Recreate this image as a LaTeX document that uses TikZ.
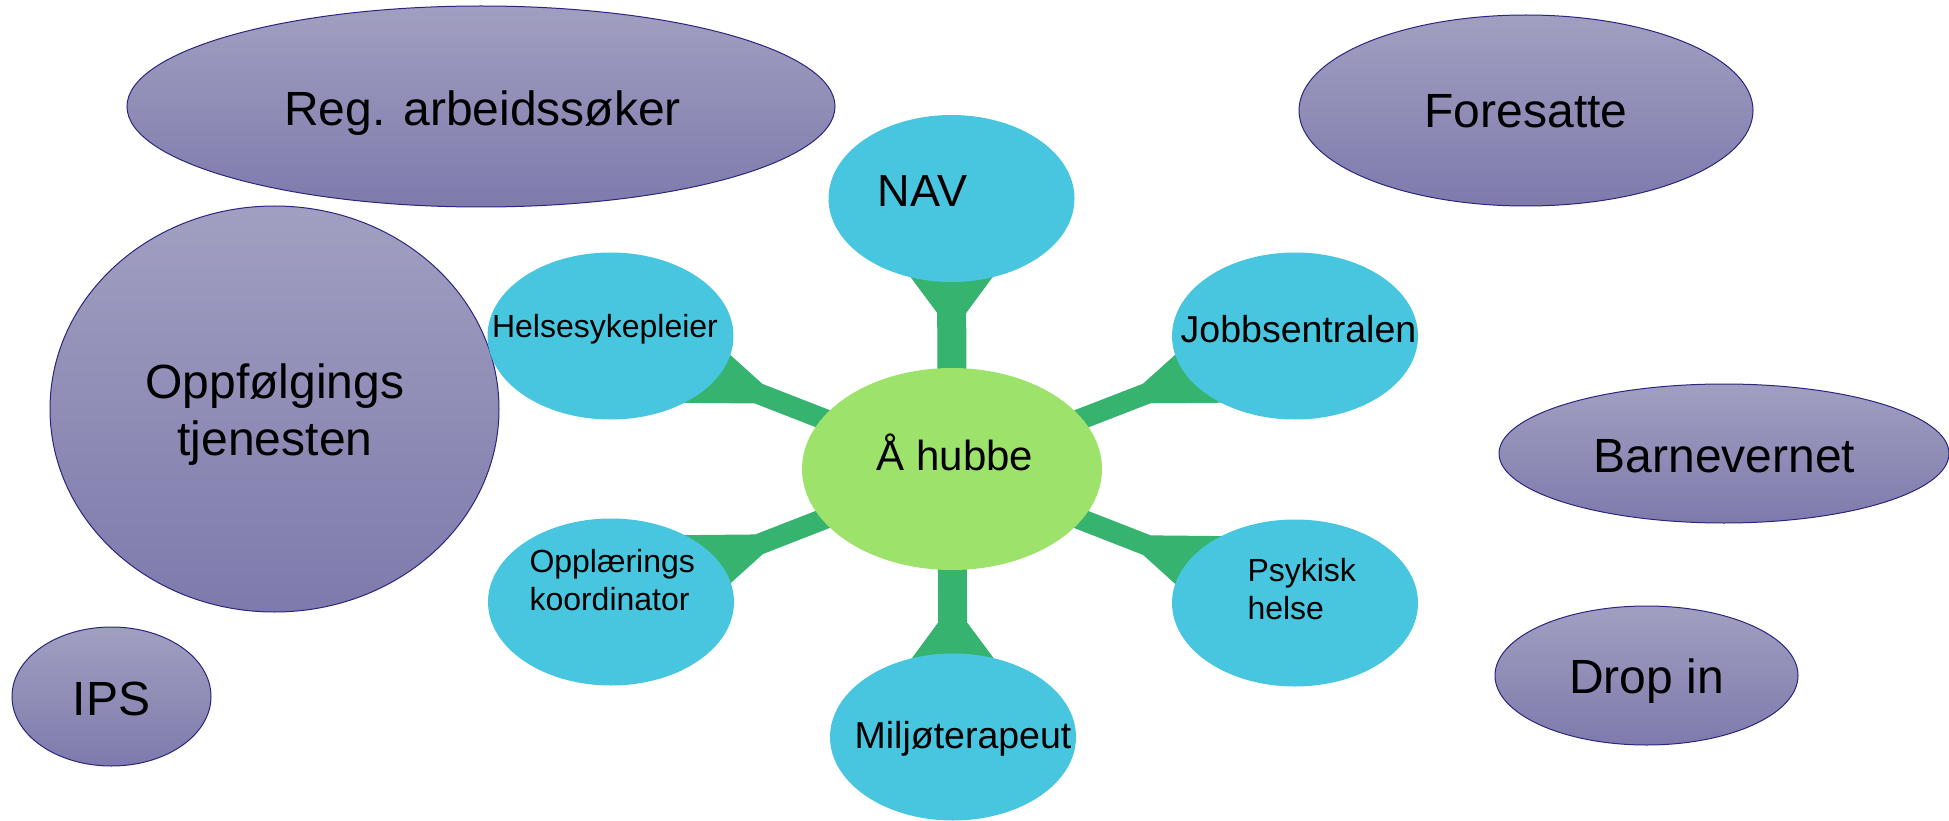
\documentclass[tikz,border=0pt]{standalone}
\usepackage{fontspec}
\setmainfont{Liberation Sans}
\usetikzlibrary{shapes.geometric,calc,backgrounds}
\definecolor{ptop}{RGB}{161,159,193}
\definecolor{pbot}{RGB}{126,122,172}
\definecolor{pline}{RGB}{42,38,128}
\definecolor{leafblue}{RGB}{73,198,223}
\definecolor{hubgreen}{RGB}{157,227,107}
\definecolor{spokegreen}{RGB}{53,179,111}
\newcommand\fsz[1]{\fontsize{#1}{#1}\selectfont}
\newcommand\linesc[3]{\vtop{\baselineskip=#1\relax\halign{\hfil##\hfil\cr#2\cr#3\cr}}}
\newcommand\linesl[3]{\vtop{\baselineskip=#1\relax\halign{##\hfil\cr#2\cr#3\cr}}}
% leaf, bar half-width, flare start, flare end, flare half-width
\newcommand\drawspoke[5]{%
  \fill[spokegreen]
  ($(hub.center)!#2!-90:(#1.center)$)
  -- ($(#1.center)!#3!(hub.center)!#2!90:(hub.center)$)
  -- ($(#1.center)!#4!(hub.center)!#5!90:(hub.center)$)
  -- ($(#1.center)!#4!(hub.center)!#5!-90:(hub.center)$)
  -- ($(#1.center)!#3!(hub.center)!#2!-90:(hub.center)$)
  -- ($(hub.center)!#2!90:(#1.center)$) -- cycle;}
\tikzset{
  outer/.style={ellipse, draw=pline, line width=1pt, top color=ptop, bottom color=pbot, inner sep=0pt, outer sep=0pt},
  leaf/.style={ellipse, fill=leafblue, minimum width=246pt, minimum height=167pt, inner sep=0pt, outer sep=0pt},
  hubst/.style={ellipse, fill=hubgreen, minimum width=300pt, minimum height=202pt, inner sep=0pt, outer sep=0pt},
  lbl/.style={anchor=base, inner sep=0pt, outer sep=0pt, text=black},
}
\begin{document}
\begin{tikzpicture}[x=1pt,y=-1pt]
\useasboundingbox (0,0) rectangle (1949,821);

% outer (purple) ellipses
\node[outer, minimum width=708pt, minimum height=201pt] (reg) at (481,106.5) {};
\node[lbl, font=\fsz{48}] (regt) at (482.5,126) {Reg. arbeidssøker};
\node[outer, minimum width=454pt, minimum height=191pt] (fore) at (1526,110.5) {};
\node[lbl, font=\fsz{48}] (foret) at (1526,128) {Foresatte};
\node[outer, minimum width=449pt, minimum height=406pt] (opp) at (274.5,409) {};
\node[lbl, font=\fsz{48}] (oppt) at (275,398) {\linesc{57pt}{Oppfølgings}{tjenesten}};
\node[outer, minimum width=450pt, minimum height=139pt] (barn) at (1724,453.5) {};
\node[lbl, font=\fsz{48}] (barnt) at (1724.5,472) {Barnevernet};
\node[outer, minimum width=199pt, minimum height=139pt] (ips) at (111.5,696.5) {};
\node[lbl, font=\fsz{48}] (ipst) at (111.5,715) {IPS};
\node[outer, minimum width=303pt, minimum height=139pt] (drop) at (1646.5,675.5) {};
\node[lbl, font=\fsz{48}] (dropt) at (1646.5,693) {Drop in};

% hub and leaves
\node[hubst] (hub) at (952,469) {};
\node[lbl, font=\fsz{42}] (hubt) at (955,470) {Å hubbe};
\node[leaf] (nav) at (951.5,198.5) {};
\node[lbl, font=\fsz{45}] (navt) at (922.5,207) {NAV};
\node[leaf] (helse) at (610.5,336) {};
\node[lbl, font=\fsz{32}] (helset) at (605,337) {Helsesykepleier};
\node[leaf] (jobb) at (1295,336) {};
\node[lbl, font=\fsz{37.5}] (jobbt) at (1298.5,342) {Jobbsentralen};
\node[leaf] (oppl) at (611,602) {};
\node[lbl, anchor=base west, font=\fsz{32}] (opplt) at (529.5,572) {\linesl{38pt}{Opplærings}{koordinator}};
\node[leaf] (psyk) at (1295,603) {};
\node[lbl, anchor=base west, font=\fsz{32}] (psykt) at (1247.5,581) {\linesl{38pt}{Psykisk}{helse}};
\node[leaf] (milj) at (953,737) {};
\node[lbl, font=\fsz{37.5}] (miljt) at (963,748) {Miljøterapeut};

% spokes
\begin{scope}[on background layer]
\drawspoke{nav}{14.5pt}{114.5pt}{60pt}{54.8pt}
\drawspoke{milj}{14.5pt}{114.5pt}{60pt}{54.8pt}
\drawspoke{helse}{10.5pt}{159pt}{60pt}{48pt}
\drawspoke{jobb}{10.5pt}{159pt}{60pt}{48pt}
\drawspoke{oppl}{10.5pt}{159pt}{60pt}{48pt}
\drawspoke{psyk}{10.5pt}{159pt}{60pt}{48pt}
\end{scope}
\end{tikzpicture}
\end{document}
